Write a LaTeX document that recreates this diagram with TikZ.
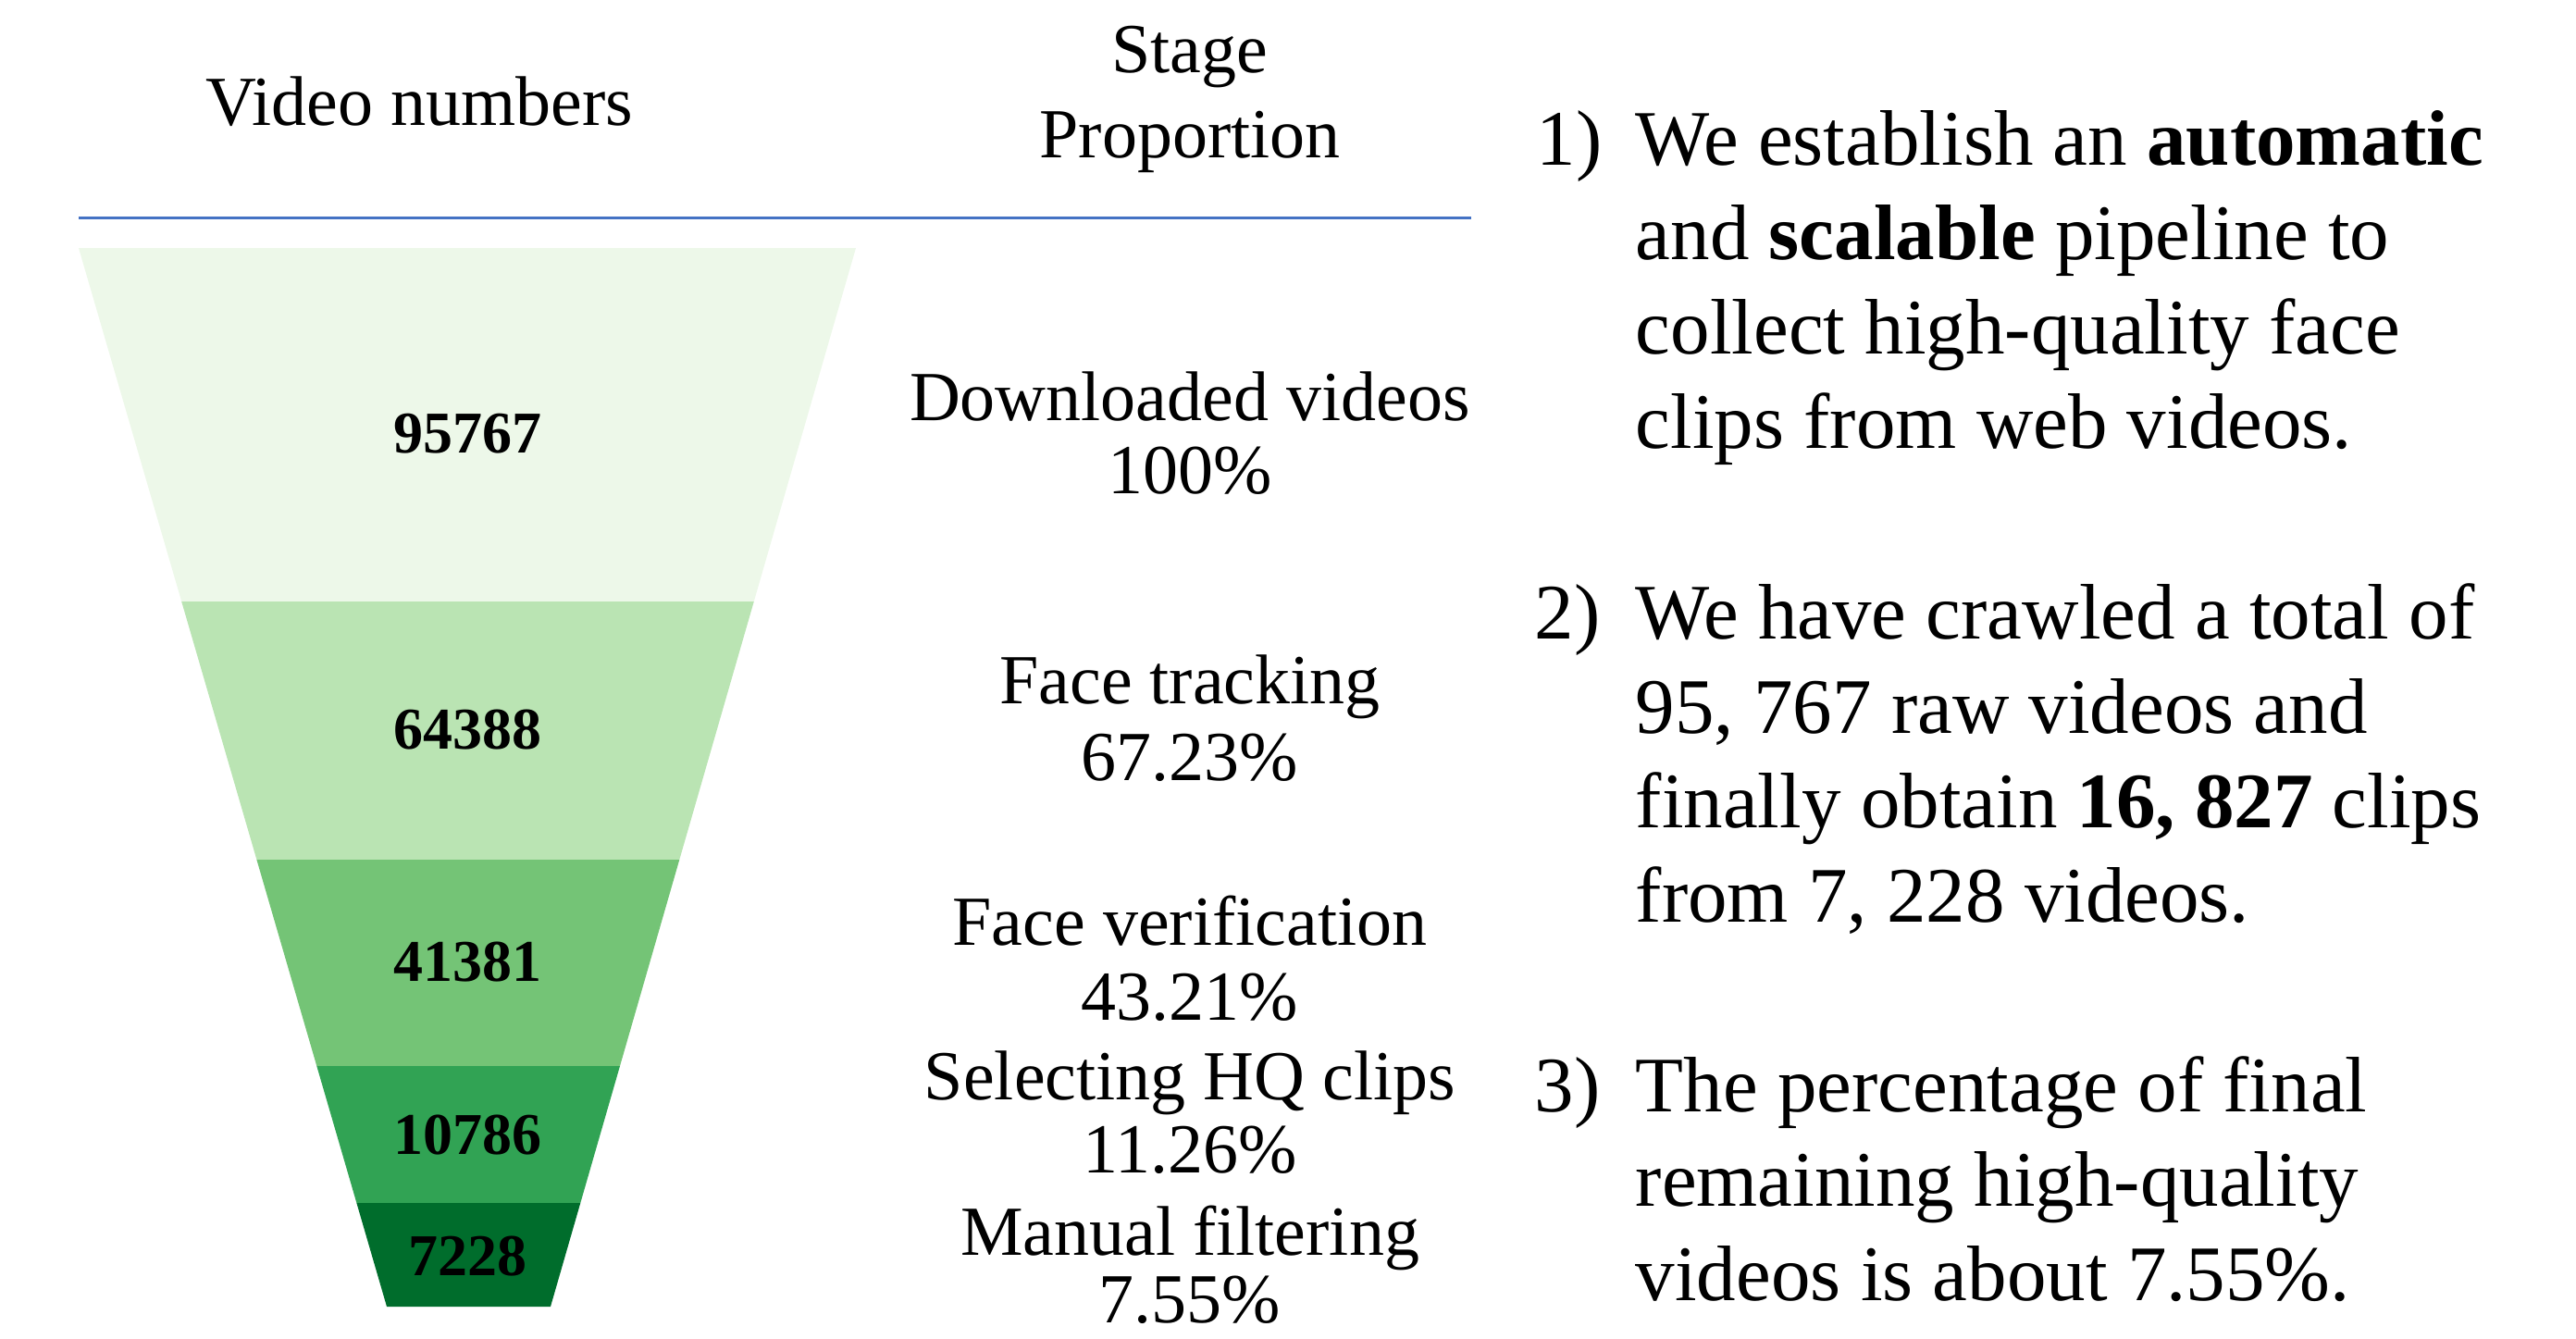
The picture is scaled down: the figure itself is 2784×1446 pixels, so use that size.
\documentclass[tikz,border=0pt]{standalone}
\usepackage{fontspec}
\setmainfont{Liberation Serif}
\definecolor{gA}{HTML}{EDF8E9}
\definecolor{gB}{HTML}{BAE4B3}
\definecolor{gC}{HTML}{74C476}
\definecolor{gD}{HTML}{31A354}
\definecolor{gE}{HTML}{006D2C}
\definecolor{rule}{HTML}{4472C4}
\begin{document}
\begin{tikzpicture}[x=0.25pt,y=-0.25pt,
  hdr/.style={inner sep=0pt, anchor=base, font=\fontsize{19}{22}\selectfont},
  stg/.style={inner sep=0pt, anchor=base, font=\fontsize{19}{22}\selectfont},
  num/.style={inner sep=0pt, anchor=center, font=\fontsize{16}{19}\selectfont\bfseries},
  txt/.style={inner sep=0pt, anchor=base west, font=\fontsize{21.25}{25}\selectfont}]
\useasboundingbox (0,0) rectangle (2784,1446);
% headers
\node[hdr] (hvid) at (453,135) {Video numbers};
\node[hdr] (hst1) at (1286,78) {Stage};
\node[hdr] (hst2) at (1286,170) {Proportion};
\coordinate (ruleL) at (85,235);
\coordinate (ruleR) at (1590,235);
\draw[rule, line width=0.75pt] (ruleL) -- (ruleR);
% funnel bands
\fill[gA] (85,268) -- (925,268) -- (814.8,650) -- (196.2,650) -- cycle;
\fill[gB] (196.2,650) -- (814.8,650) -- (734.3,929) -- (277.4,929) -- cycle;
\fill[gC] (277.4,929) -- (734.3,929) -- (670.0,1152) -- (342.3,1152) -- cycle;
\fill[gD] (342.3,1152) -- (670.0,1152) -- (627.3,1300) -- (385.4,1300) -- cycle;
\fill[gE] (385.4,1300) -- (627.3,1300) -- (595,1412) -- (418,1412) -- cycle;
% numbers
\node[num] (n1) at (505,469) {95767};
\node[num] (n2) at (505,789) {64388};
\node[num] (n3) at (505,1040) {41381};
\node[num] (n4) at (505,1227) {10786};
\node[num] (n5) at (505,1358) {7228};
% stages
\node[stg] (s1a) at (1286,454) {Downloaded videos};
\node[stg] (s1b) at (1286,533) {100\%};
\node[stg] (s2a) at (1286,760) {Face tracking};
\node[stg] (s2b) at (1286,843) {67.23\%};
\node[stg] (s3a) at (1286,1021) {Face verification};
\node[stg] (s3b) at (1286,1102) {43.21\%};
\node[stg] (s4a) at (1286,1188) {Selecting HQ clips};
\node[stg] (s4b) at (1286,1267) {11.26\%};
\node[stg] (s5a) at (1286,1356) {Manual filtering};
\node[stg] (s5b) at (1286,1429) {7.55\%};
% right text
\node[txt] (k1) at (1660,178) {1)};
\node[txt] (p1a) at (1767,178) {We establish an \textbf{automatic}};
\node[txt] (p1b) at (1767,280) {and \textbf{scalable} pipeline to};
\node[txt] (p1c) at (1767,382) {collect high-quality face};
\node[txt] (p1d) at (1767,484) {clips from web videos.};
\node[txt] (k2) at (1658,690) {2)};
\node[txt] (p2a) at (1767,690) {We have crawled a total of};
\node[txt] (p2b) at (1767,792) {95, 767 raw videos and};
\node[txt] (p2c) at (1767,894) {finally obtain \textbf{16, 827} clips};
\node[txt] (p2d) at (1767,996) {from 7, 228 videos.};
\node[txt] (k3) at (1658,1201) {3)};
\node[txt] (p3a) at (1767,1201) {The percentage of final};
\node[txt] (p3b) at (1767,1303) {remaining high-quality};
\node[txt] (p3c) at (1767,1405) {videos is about 7.55\%.};
\end{tikzpicture}
\end{document}
